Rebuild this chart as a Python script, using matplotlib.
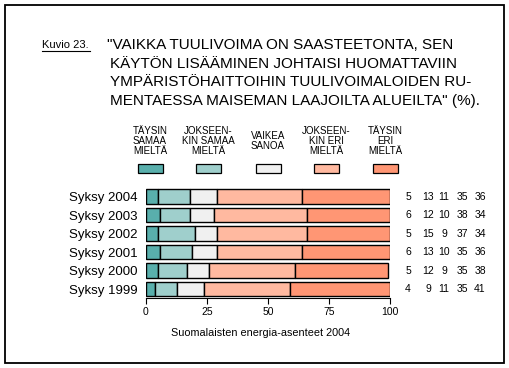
import matplotlib
matplotlib.use("Agg")
import matplotlib.pyplot as plt
from matplotlib.patches import Rectangle
from matplotlib.transforms import blended_transform_factory
import numpy as np

plt.rcParams['font.family'] = ['Liberation Sans', 'DejaVu Sans']

years = ["Syksy 1999", "Syksy 2000", "Syksy 2001", "Syksy 2002", "Syksy 2003", "Syksy 2004"]
taysin_samaa = [4, 5, 6, 5, 6, 5]
jokseenkin_samaa = [9, 12, 13, 15, 12, 13]
vaikea_sanoa = [11, 9, 10, 9, 10, 11]
jokseenkin_eri = [35, 35, 35, 37, 38, 35]
taysin_eri = [41, 38, 36, 34, 34, 36]

categories = ["TÄYSIN\nSAMAA\nMIELTÄ", "JOKSEEN-\nKIN SAMAA\nMIELTÄ", "VAIKEA\nSANOA",
              "JOKSEEN-\nKIN ERI\nMIELTÄ", "TÄYSIN\nERI\nMIELTÄ"]
colors = ["#59AFAC", "#9FCFCC", "#F0F0F0", "#FFB9A0", "#FF9674"]
xticks = [0, 25, 50, 75, 100]

series = [taysin_samaa, jokseenkin_samaa, vaikea_sanoa, jokseenkin_eri, taysin_eri]

W, H = 509, 368
fig = plt.figure(figsize=(W / 100, H / 100), dpi=100)

# outer frame
fig.add_artist(Rectangle((5 / W, 1 - 363 / H), 499 / W, 358 / H, transform=fig.transFigure,
                         fill=False, edgecolor="black", linewidth=1.3))

# title
fig.text(42 / W, 1 - 45 / H, "Kuvio 23.", fontsize=8, va="center", ha="left")
fig.add_artist(plt.Line2D([42 / W, 90 / W], [1 - 51 / H] * 2, color="black", linewidth=0.8))
title_lines = ['"VAIKKA TUULIVOIMA ON SAASTEETONTA, SEN',
               'KÄYTÖN LISÄÄMINEN JOHTAISI HUOMATTAVIIN',
               'YMPÄRISTÖHAITTOIHIN TUULIVOIMALOIDEN RU-',
               'MENTAESSA MAISEMAN LAAJOILTA ALUEILTA" (%).']
for i, line in enumerate(title_lines):
    x0 = 107 if i == 0 else 110
    fig.text(x0 / W, 1 - (45 + i * 18.7) / H, line, fontsize=11, va="center", ha="left")

# legend
legend_x = [150, 208, 268, 326, 385]
for cx, lab, col in zip(legend_x, categories, colors):
    fig.text(cx / W, 1 - 140.5 / H, lab, fontsize=7, ha="center", va="center",
             linespacing=1.0)
    fig.add_artist(Rectangle(((cx - 12.5) / W, 1 - 173 / H), 25 / W, 9 / H,
                             transform=fig.transFigure, facecolor=col,
                             edgecolor="black", linewidth=0.9))

ax = fig.add_axes([145.7 / W, 1 - 298.3 / H, (390 - 145.7) / W, 111 / H])
y = np.arange(len(years))
left = np.zeros(len(years))
for vals, col in zip(series, colors):
    ax.barh(y, vals, left=left, height=0.8, color=col, edgecolor="black", linewidth=1.0)
    left += np.array(vals)

ax.set_xlim(0, 100)
ax.set_ylim(-0.5, 5.5)
ax.set_yticks(y)
ax.set_yticklabels(years, fontsize=9.5)
ax.tick_params(axis="y", length=0, pad=6)
ax.set_xticks(xticks)
ax.tick_params(axis="x", labelsize=7.5, length=4, direction="out", width=0.8, pad=2)
for s in ["top", "right", "left"]:
    ax.spines[s].set_visible(False)
ax.spines["bottom"].set_linewidth(0.8)

# value columns
col_x = [408, 428, 444, 462, 480]
trans = blended_transform_factory(fig.transFigure, ax.transData)
for i in range(len(years)):
    for j, vals in enumerate(series):
        ax.text(col_x[j] / W, y[i], str(vals[i]), transform=trans,
                fontsize=7.5, ha="center", va="center")

fig.text(261 / W, 1 - 333 / H, "Suomalaisten energia-asenteet 2004", fontsize=7.8,
         ha="center", va="center")

fig.savefig("out.png", dpi=100)
